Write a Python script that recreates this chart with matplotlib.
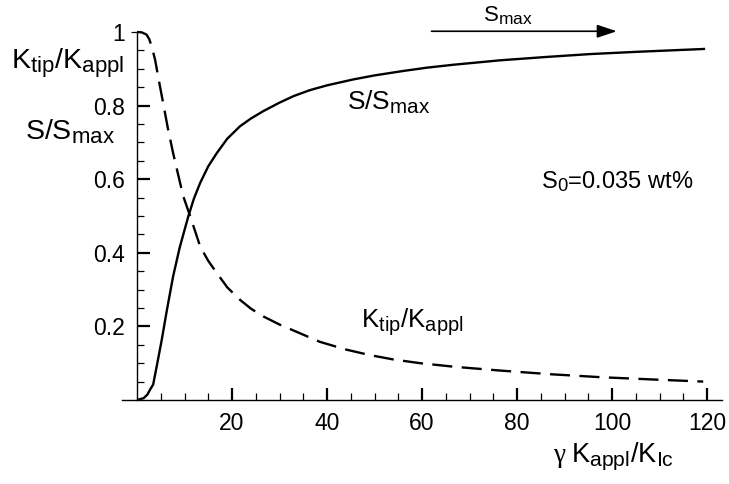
import matplotlib
matplotlib.use("Agg")
import matplotlib.pyplot as plt
import matplotlib.lines as mlines
try:
    import matplotlib._mathtext as _mt
    _mt.SHRINK_FACTOR = 0.78
except Exception:
    pass

plt.rcParams['font.family'] = ['Liberation Sans', 'DejaVu Sans']
plt.rcParams['mathtext.fontset'] = 'custom'
plt.rcParams['mathtext.rm'] = 'Liberation Sans'
plt.rcParams['mathtext.it'] = 'Liberation Sans:italic'
plt.rcParams['mathtext.bf'] = 'Liberation Sans:bold'

# S/Smax (solid)
s_x = [0, 1.4, 2.2, 2.7, 3.4, 4.2, 5.2, 6.3, 7.6, 9.0, 10.8, 12.0, 13.3, 15.0, 16.8,
       19.0, 21.7, 24.0, 26.6, 30.0, 33.0, 36.4, 40.0, 45.5, 50.0, 56.0, 61.0, 66.6,
       76.4, 86.0, 95.4, 105.0, 119.6]
s_y = [0, 0.005, 0.015, 0.027, 0.042, 0.095, 0.163, 0.245, 0.336, 0.415, 0.499, 0.548,
       0.59, 0.635, 0.671, 0.71, 0.744, 0.765, 0.785, 0.808, 0.826, 0.842, 0.855, 0.871,
       0.882, 0.894, 0.903, 0.911, 0.923, 0.932, 0.94, 0.946, 0.954]

# Ktip/Kappl (dashed)
k_x = [0, 1.0, 2.0, 2.6, 3.2, 3.8, 4.6, 5.5, 6.5, 7.6, 8.7, 9.75, 11.2, 13.3, 15.0, 16.8,
       19.0, 21.7, 24.0, 26.6, 30.0, 34.0, 38.5, 44.0, 49.0, 54.0, 59.6, 67.0, 76.4, 87.0,
       97.5, 108.0, 119.2]
k_y = [1.0, 0.999, 0.993, 0.98, 0.955, 0.925, 0.868, 0.807, 0.738, 0.671, 0.61, 0.553,
       0.499, 0.417, 0.378, 0.345, 0.306, 0.272, 0.248, 0.227, 0.205, 0.183, 0.158, 0.137,
       0.122, 0.11, 0.10, 0.09, 0.08, 0.07, 0.062, 0.056, 0.05]

x_ticks = [20, 40, 60, 80, 100, 120]
y_ticks = [0.2, 0.4, 0.6, 0.8, 1.0]
y_ticklabels = ['0.2', '0.4', '0.6', '0.8', '1']

fig = plt.figure(figsize=(7.29, 4.84), dpi=100)
ax = fig.add_axes([0.1671, 0.1736, 0.8236, 0.7603])

ax.plot(s_x, s_y, color='black', lw=1.7, solid_capstyle='butt', clip_on=False)
ax.plot(k_x, k_y, color='black', lw=1.7, linestyle=(0, (8.5, 4.0)), dash_capstyle='butt',
        clip_on=False)

ax.set_xlim(-3.2, 123.2)
ax.set_ylim(0, 1.0)

for s in ['top', 'right']:
    ax.spines[s].set_visible(False)
ax.spines['left'].set_position(('data', 0))
ax.spines['left'].set_bounds(0, 1)
ax.spines['left'].set_linewidth(1.0)
ax.spines['bottom'].set_linewidth(1.0)

ax.set_xticks(x_ticks)
ax.set_xticks([v for v in range(5, 121, 5) if v % 20 != 0], minor=True)
ax.set_yticks(y_ticks)
ax.set_yticklabels(y_ticklabels)
ax.set_yticks([0.05 * i for i in range(1, 20) if i % 4 != 0], minor=True)

ax.tick_params(axis='both', which='major', direction='in', length=9, width=1.6,
               labelsize=16.5)
ax.tick_params(axis='x', which='major', pad=9)
ax.tick_params(axis='y', which='major', pad=8.5)
ax.tick_params(axis='both', which='minor', direction='in', length=5, width=0.9)

# top tick at 1 points outward, short
fig.canvas.draw()
t1 = ax.yaxis.get_major_ticks()[-1]
t1.tick1line.set_marker(mlines.TICKLEFT)
t1.tick1line.set_markersize(4)
t1.tick1line.set_markeredgewidth(0.9)

# arrow with S_max
ax.annotate('', xy=(101, 1.002), xytext=(62, 1.002),
            arrowprops=dict(arrowstyle='-|>,head_length=0.6,head_width=0.2',
                            mutation_scale=20, lw=1.2, color='black',
                            shrinkA=0, shrinkB=0),
            annotation_clip=False)
ax.text(78, 1.043, r'$\mathrm{S_{max}}$', fontsize=16, ha='center', va='center', clip_on=False)

ax.text(53, 0.81, r'$\mathrm{S/S_{max}}$', fontsize=19, ha='center', va='center')
ax.text(58, 0.212, r'$\mathrm{K_{tip}/K_{appl}}$', fontsize=18.5, ha='center', va='center')
ax.text(101, 0.593, r'$\mathrm{S_0}$=0.035 wt%', fontsize=17, ha='center', va='center')

fig.text(68 / 729, 1 - 63 / 484, r'$\mathrm{K_{tip}/K_{appl}}$', fontsize=20.5,
         ha='center', va='center')
fig.text(70 / 729, 1 - 132 / 484, r'$\mathrm{S/S_{max}}$', fontsize=20.5,
         ha='center', va='center')
fig.text(565 / 729, 1 - 456 / 484, 'γ', fontsize=19.5, family='Liberation Serif',
         ha='right', va='center')
fig.text(571 / 729, 1 - 456 / 484, r'$\mathrm{K_{appl}/K_{Ic}}$', fontsize=19.5,
         ha='left', va='center')

fig.savefig('out.png', dpi=100)
